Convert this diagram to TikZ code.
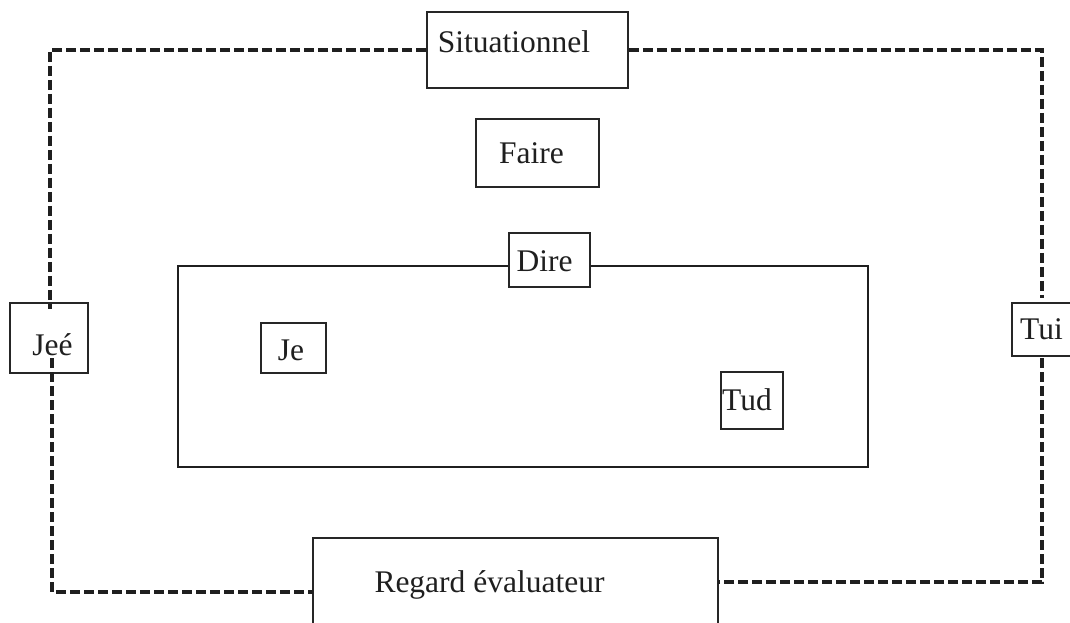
\documentclass[tikz,border=0pt]{standalone}
\usepackage{fontspec}
\setmainfont{Liberation Serif}
\begin{document}
\begin{tikzpicture}[x=1pt,y=-1pt,
  box/.style={draw=black!85, line width=1.8pt, rectangle, inner sep=0pt},
  word/.style={anchor=base, inner sep=0pt, text=black!88, font=\fontsize{31.5}{36}\selectfont},
  loopline/.style={draw=black!88, line width=4.2pt, dash pattern=on 10pt off 4pt},
  frame/.style={draw=black!88, line width=2pt}]
\useasboundingbox[fill=white] (0,0) rectangle (1070,622);
\clip (0,0) rectangle (1070,622);

% boxes
\node[box, minimum width=201pt, minimum height=76pt] (sit) at (527.5,50) {};
\node[word] (sit-t) at (514,52) {Situationnel};
\node[box, minimum width=123pt, minimum height=68pt] (faire) at (537.5,153) {};
\node[word] (faire-t) at (531.5,163) {Faire};
\node[box, minimum width=81pt, minimum height=54pt] (dire) at (549.5,260) {};
\node[word] (dire-t) at (544.5,271) {Dire};
\node[box, minimum width=65pt, minimum height=50pt] (je) at (293.5,348) {};
\node[word] (je-t) at (291,360) {Je};
\node[box, minimum width=62pt, minimum height=57pt] (tud) at (752,400.5) {};
\node[word] (tud-t) at (747,410) {Tud};
\node[box, minimum width=78pt, minimum height=70pt] (jee) at (49,338) {};
\node[word] (jee-t) at (52.5,355) {Jeé};
\node[box, minimum width=68pt, minimum height=53pt] (tui) at (1046,329.5) {};
\node[word] (tui-t) at (1041.5,339) {Tui};
\node[box, minimum width=405pt, minimum height=122pt] (reg) at (515.5,599) {};
\node[word] (reg-t) at (489.5,592) {Regard évaluateur};

% free ends of the dashed loop
\coordinate (jeeIn) at (50,309);
\coordinate (jeeOut) at (52,358);
\coordinate (regL) at (313,592);
\coordinate (tuiIn) at (1042,298);
\coordinate (tuiOut) at (1042,358);
\coordinate (regR) at (718,582);

\draw[loopline] (sit.west) -| (jeeIn);
\draw[loopline] (jeeOut) |- (regL);
\draw[loopline] (sit.east) -| (tuiIn);
\draw[loopline] (tuiOut) |- (regR);

% inner frame around Je / Tud
\coordinate (ftl) at (178,266);
\coordinate (ftr) at (868,266);
\coordinate (fbr) at (868,467);
\coordinate (fbl) at (178,467);
\draw[frame] (ftl -| dire.west) -- (ftl) -- (fbl) -- (fbr) -- (ftr) -- (ftr -| dire.east);
\end{tikzpicture}
\end{document}
